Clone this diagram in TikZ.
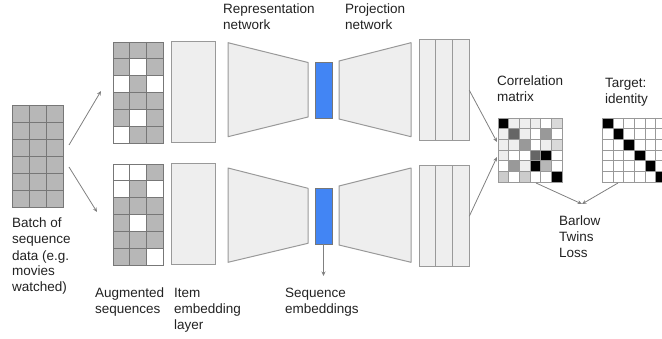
\documentclass[tikz,border=0pt]{standalone}
\usepackage{fontspec}
\setmainfont{Liberation Sans}
\usetikzlibrary{arrows.meta,calc}

\definecolor{cellgray}{HTML}{B7B7B7}
\definecolor{gridline}{HTML}{777777}
\definecolor{panel}{HTML}{EEEEEE}
\definecolor{panelline}{HTML}{999999}
\definecolor{embblue}{HTML}{4285F4}
\definecolor{arrowgray}{HTML}{808080}
\definecolor{txt}{HTML}{222222}
\definecolor{c1}{HTML}{EEEEEE}
\definecolor{c2}{HTML}{D9D9D9}
\definecolor{c3}{HTML}{999999}
\definecolor{c4}{HTML}{666666}
\definecolor{c5}{HTML}{B7B7B7}
\definecolor{c6}{HTML}{CCCCCC}

\tikzset{
  gridbox/.style={draw=gridline, line width=0.8pt, fill=cellgray, inner sep=0pt, outer sep=0pt},
  panelbox/.style={draw=panelline, line width=1pt, fill=panel, inner sep=0pt, outer sep=0pt},
  trapez/.style={draw=panelline, line width=1pt, fill=panel, line join=round},
  embbox/.style={draw=gridline, line width=0.8pt, fill=embblue, inner sep=0pt, outer sep=0pt,
    minimum width=17pt, minimum height=56pt},
  matbox/.style={draw=panelline, line width=0.7pt, inner sep=0pt, outer sep=0pt,
    minimum width=64pt, minimum height=64pt},
  % multi-line labels are placed by the baseline of their last line
  label/.style={anchor=base west, align=left, inner sep=0pt, text=txt,
    font=\fontsize{13.5}{16}\selectfont},
  conn/.style={draw=arrowgray, line width=0.8pt,
    -{Stealth[length=4.5pt,width=4pt]}},
}

% one augmented / raw sequence grid: #1 node name, #2 left, #3 top, #4 cell w, #5 cell h, #6 white cells
\newcommand\seqgrid[6]{%
  \node[gridbox, anchor=north west, minimum width={3*#4 pt}, minimum height={6*#5 pt}] (#1) at (#2,#3) {};
  \foreach \cc/\rr in {#6}
    \fill[white] ({#2+(\cc-1)*#4},{#3+(\rr-1)*#5}) rectangle ({#2+\cc*#4},{#3+\rr*#5});
  \foreach \k in {1,2}
    \draw[gridline, line width=0.8pt] ({#2+\k*#4},#3) -- ({#2+\k*#4},{#3+6*#5});
  \foreach \k in {1,...,5}
    \draw[gridline, line width=0.8pt] (#2,{#3+\k*#5}) -- ({#2+3*#4},{#3+\k*#5});
  \draw[gridline, line width=0.8pt] (#1.north west) rectangle (#1.south east);
}

% three-column projection output: #1 name, #2 top
\newcommand\projcols[2]{%
  \node[panelbox, anchor=north west, minimum width=50.3pt, minimum height=100.5pt] (#1) at (419,#2) {};
  \draw[panelline, line width=1pt] (435.7,#2) -- (435.7,{#2+100.5});
  \draw[panelline, line width=1pt] (452.3,#2) -- (452.3,{#2+100.5});
}

\begin{document}
\begin{tikzpicture}[x=1pt,y=-1pt]
\useasboundingbox (0,0) rectangle (662,339);
\clip (0,0) rectangle (662,339);

% input batch
\seqgrid{batch}{12}{105}{17}{17}{}

% augmented sequences
\seqgrid{aug1}{113}{42}{16.667}{16.833}{2/2,1/3,3/3,2/5,1/6}
\seqgrid{aug2}{113}{164}{16.667}{16.833}{1/1,2/1,1/2,3/2,2/4,3/6}

% item embedding layers
\node[panelbox, minimum width=44pt, minimum height=101pt] (emb1) at (193,92.5) {};
\node[panelbox, minimum width=44pt, minimum height=101pt] (emb2) at (193,214.5) {};

% representation networks
\draw[trapez] (228,42.7) -- (308,62.5) -- (308,117) -- (228,136.7) -- cycle;
\draw[trapez] (228,168) -- (308,188.3) -- (308,243.3) -- (228,262.3) -- cycle;

% sequence embeddings
\node[embbox] (blue1) at (323.5,90) {};
\node[embbox] (blue2) at (323.5,216) {};

% projection networks
\draw[trapez] (339,61) -- (411,42.7) -- (411,136.7) -- (339,119) -- cycle;
\draw[trapez] (339,186) -- (411,168) -- (411,262.3) -- (339,245) -- cycle;

\projcols{proj1}{40}
\projcols{proj2}{166}

% correlation matrix
\node[matbox, anchor=north west] (corr) at (498,118) {};
\foreach \row [count=\r] in {
  {black,c1,c1,c1,white,c2},
  {c1,c4,c1,white,c3,white},
  {c1,c1,c3,white,c1,c2},
  {c1,white,white,c4,black,white},
  {white,c3,c1,black,c5,white},
  {c6,white,c6,white,white,black}}
  \foreach \col [count=\c] in \row
    \fill[\col] ({498+(\c-1)*10.667},{118+(\r-1)*10.667}) rectangle ({498+\c*10.667},{118+\r*10.667});
\foreach \k in {1,...,5} {
  \draw[panelline, line width=0.7pt] ({498+\k*10.667},118) -- ({498+\k*10.667},182);
  \draw[panelline, line width=0.7pt] (498,{118+\k*10.667}) -- (562,{118+\k*10.667});
}
\draw[panelline, line width=0.7pt] (corr.north west) rectangle (corr.south east);

% target identity matrix
\node[matbox, anchor=north west] (target) at (602.5,118) {};
\foreach \k in {1,...,6}
  \fill[black] ({602.5+(\k-1)*10.667},{118+(\k-1)*10.667}) rectangle ({602.5+\k*10.667},{118+\k*10.667});
\foreach \k in {1,...,5} {
  \draw[panelline, line width=0.7pt] ({602.5+\k*10.667},118) -- ({602.5+\k*10.667},182);
  \draw[panelline, line width=0.7pt] (602.5,{118+\k*10.667}) -- (666.5,{118+\k*10.667});
}
\draw[panelline, line width=0.7pt] (target.north west) rectangle (target.south east);

% connector end points
\coordinate (batch-up) at (69,145);
\coordinate (batch-down) at (69,167);
\coordinate (aug1-in) at (101,91);
\coordinate (aug2-in) at (97,212);
\coordinate (corr-in1) at (497,142);
\coordinate (corr-in2) at (497,157);
\coordinate (corr-out) at (536,183);
\coordinate (target-out) at (618,183);
\coordinate (loss-in) at (582,204);
\coordinate (seq-out) at (323.5,276);

\draw[conn] (batch-up) -- (aug1-in);
\draw[conn] (batch-down) -- (aug2-in);
\draw[conn] (proj1.east) -- (corr-in1);
\draw[conn] (proj2.east) -- (corr-in2);
\draw[conn] (corr-out) -- (loss-in);
\draw[conn] (target-out) -- (loss-in);
\draw[conn] (blue2.south) -- (seq-out);

% labels
\node[label] (l-rep) at (223,30) {Representation\\network};
\node[label] (l-proj) at (345,30) {Projection\\network};
\node[label] (l-corr) at (497,102) {Correlation\\matrix};
\node[label] (l-target) at (605,104) {Target:\\identity};
\node[label] (l-batch) at (12,292) {Batch of\\sequence\\data (e.g.\\movies\\watched)};
\node[label] (l-aug) at (95,314) {Augmented\\sequences};
\node[label] (l-item) at (174,330) {Item\\embedding\\layer};
\node[label] (l-seq) at (285,314) {Sequence\\embeddings};
\node[label] (l-loss) at (559,258) {Barlow\\Twins\\Loss};
\end{tikzpicture}
\end{document}
